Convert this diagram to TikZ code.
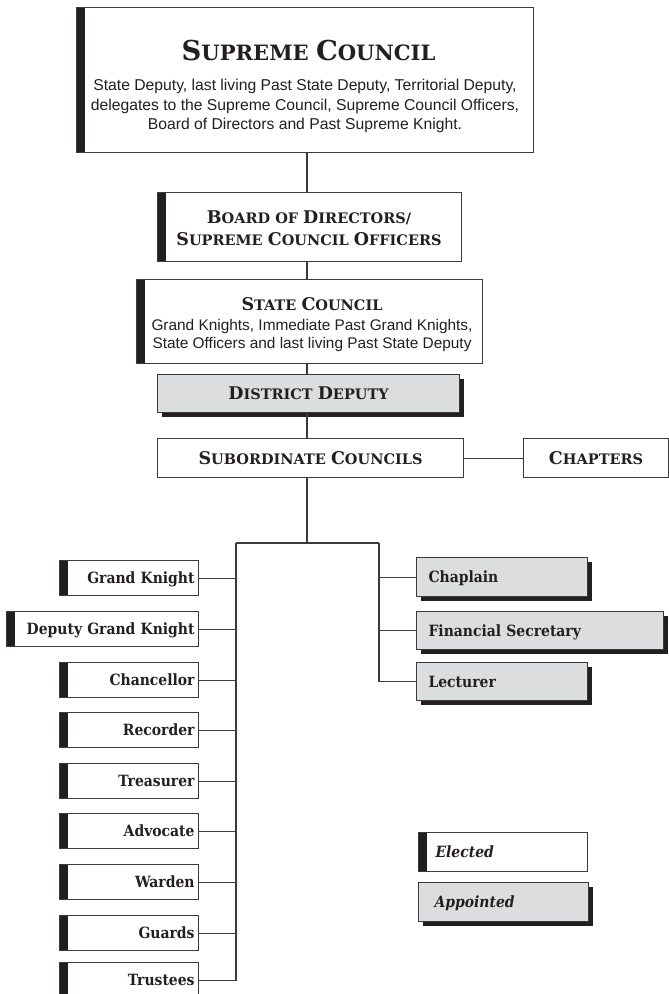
\documentclass[tikz,border=0pt]{standalone}
\usepackage{fontspec}
\setmainfont{DejaVu Serif}
\newfontfamily\sansf{Liberation Sans}
\newfontfamily\condf{DejaVu Serif Condensed}
\usetikzlibrary{shadows}
\definecolor{ln}{HTML}{3A3A3A}
\definecolor{barc}{HTML}{231F20}
\definecolor{gfill}{HTML}{DCDDDF}
\definecolor{txt}{HTML}{231F20}
\def\hbig{17.5pt}
\newcommand\hsc[1]{{\fontsize{\hbig}{\hbig}\selectfont #1}}
\newcommand\headfont{\bfseries\fontsize{14.5pt}{17pt}\selectfont}
\newcommand\rolefont{\condf\bfseries\fontsize{15.5pt}{17pt}\selectfont}
\newcommand\subfont{\sansf\mdseries\fontsize{15.7pt}{19pt}\selectfont}
\begin{document}
\begin{tikzpicture}[x=1pt,y=-1pt,
  bx/.style={draw=ln, line width=1.1pt, fill=white, inner sep=0pt, anchor=north west,
    text=txt, font=\headfont, align=center},
  barbox/.style={bx, path picture={\fill[barc] (path picture bounding box.north west)
    rectangle ([xshift=8pt]path picture bounding box.south west);}},
  grbox/.style={bx, fill=gfill, drop shadow={shadow xshift=4pt, shadow yshift=-4pt,
    opacity=1, fill=barc}},
  leftrole/.style={barbox, font=\rolefont, minimum height=35pt, inner xsep=4pt,
    align=right, text height=11pt, text depth=0pt},
  rightrole/.style={grbox, font=\rolefont, inner xsep=12pt, align=left,
    text height=11pt, text depth=0pt},
  conn/.style={draw=ln, line width=1.1pt},
  txtnode/.style={inner sep=0pt, text=txt, anchor=base}]
\useasboundingbox (0,0) rectangle (669,994);

% ---- top chain ----
\node[barbox, minimum width=457pt, minimum height=145pt] (sup) at (76,7) {};
\node[txtnode, font=\bfseries\fontsize{21.1pt}{21pt}\selectfont] (supT) at (308.5,60.7)
  {\def\hbig{27.4pt}\hsc{S}UPREME \hsc{C}OUNCIL};
\node[txtnode, font=\subfont] (supA) at (305,90)
  {State Deputy, last living Past State Deputy, Territorial Deputy,};
\node[txtnode, font=\subfont] (supB) at (305,110)
  {delegates to the Supreme Council, Supreme Council Officers,};
\node[txtnode, font=\subfont] (supC) at (305,129.3)
  {Board of Directors and Past Supreme Knight.};

\node[barbox, minimum width=304pt, minimum height=69pt] (board) at (157,192) {};
\node[txtnode, font=\headfont] (boardA) at (309,223) {\hsc{B}OARD OF \hsc{D}IRECTORS/};
\node[txtnode, font=\headfont] (boardB) at (309,245) {\hsc{S}UPREME \hsc{C}OUNCIL \hsc{O}FFICERS};

\node[barbox, minimum width=346pt, minimum height=84pt] (state) at (136,279) {};
\node[txtnode, font=\headfont] (stateT) at (312,310) {\hsc{S}TATE \hsc{C}OUNCIL};
\node[txtnode, font=\subfont\fontsize{15.4pt}{18pt}\selectfont] (stateA) at (312,330.5)
  {Grand Knights, Immediate Past Grand Knights,};
\node[txtnode, font=\subfont\fontsize{15.4pt}{18pt}\selectfont] (stateB) at (312,348)
  {State Officers and last living Past State Deputy};

\node[grbox, minimum width=302pt, minimum height=38pt, text height=12.5pt, text depth=0pt]
  (dd) at (157,374) {\hsc{D}ISTRICT \hsc{D}EPUTY};
\node[bx, minimum width=306pt, minimum height=39pt, text height=12.5pt, text depth=0pt]
  (sub) at (157,438) {\hsc{S}UBORDINATE \hsc{C}OUNCILS};
\node[bx, minimum width=145pt, minimum height=39pt, text height=12.5pt, text depth=0pt]
  (chap) at (523,438) {\hsc{C}HAPTERS};

% ---- left column (elected) ----
\node[leftrole, text width=131pt] (gk)   at (59,560) {Grand Knight};
\node[leftrole, text width=184pt] (dgk)  at (6,611)  {Deputy Grand Knight};
\node[leftrole, text width=131pt] (chan) at (59,662) {Chancellor};
\node[leftrole, text width=131pt] (rec)  at (59,712) {Recorder};
\node[leftrole, text width=131pt] (tre)  at (59,763) {Treasurer};
\node[leftrole, text width=131pt] (adv)  at (59,813) {Advocate};
\node[leftrole, text width=131pt] (war)  at (59,864) {Warden};
\node[leftrole, text width=131pt] (gua)  at (59,915) {Guards};
\node[leftrole, text width=131pt] (tru)  at (59,962) {Trustees};

% ---- right column (appointed) ----
\node[rightrole, minimum height=39pt, text width=147pt] (chp) at (416,557) {Chaplain};
\node[rightrole, minimum height=38pt, text width=223pt] (fin) at (416,611) {Financial Secretary};
\node[rightrole, minimum height=38pt, text width=147pt] (lec) at (416,662) {Lecturer};

% ---- legend ----
\node[barbox, font=\rolefont\itshape, minimum height=39pt, inner xsep=17pt, text width=135pt,
  align=left, text height=11pt, text depth=0pt] (ele) at (418,832) {Elected};
\node[grbox, font=\rolefont\itshape, minimum height=39pt, inner xsep=16pt, text width=138pt,
  align=left, text height=11pt, text depth=0pt] (app) at (418,882) {Appointed};

% ---- connectors ----
\coordinate (sp) at (307,0);
\draw[conn] (sup.south -| sp) -- (board.north -| sp);
\draw[conn] (board.south -| sp) -- (state.north -| sp);
\draw[conn] (state.south -| sp) -- (dd.north -| sp);
\draw[conn] (dd.south -| sp) -- (sub.north -| sp);
\draw[conn] (sub.east) -- (chap.west);
\coordinate (bc) at (307,543);
\coordinate (bl) at (236,543);
\coordinate (br) at (379,543);
\draw[conn] (sub.south -| bc) -- (bc);
\draw[conn] (bl) -- (br);
\draw[conn] (bl) |- (tru.east);
\draw[conn] (br) |- (lec.west);
\foreach \n in {gk,dgk,chan,rec,tre,adv,war,gua} \draw[conn] (\n.east) -- (\n.east -| bl);
\foreach \n in {chp,fin} \draw[conn] (\n.west) -- (\n.west -| br);
\end{tikzpicture}
\end{document}
